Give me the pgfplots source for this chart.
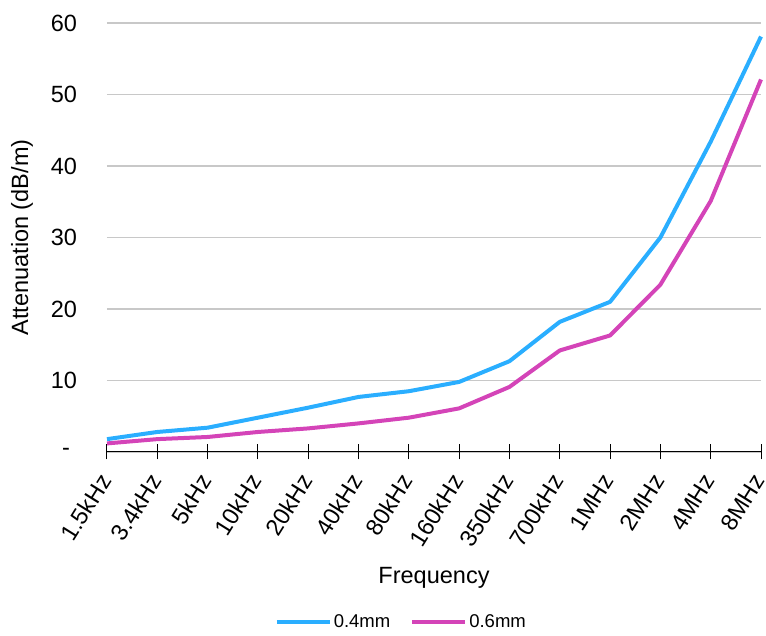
\documentclass[border=0pt]{standalone}
\usepackage{pgfplots}
\pgfplotsset{compat=1.18}
\usepackage{fontspec}
\setmainfont{Liberation Sans}
\definecolor{cblue}{HTML}{2AAEFF}
\definecolor{cmag}{HTML}{D444B8}
\definecolor{cgrid}{HTML}{C8C8C8}
\begin{document}
\begin{tikzpicture}
\begin{axis}[
  name=ax,
  scale only axis,
  width=654pt, height=429pt,
  xmin=0, xmax=13, ymin=0, ymax=60,
  axis lines*=left,
  y axis line style={draw=none},
  x axis line style={black, line width=1pt},
  xtick={0,...,13},
  xticklabels={1.5kHz,3.4kHz,5kHz,10kHz,20kHz,40kHz,80kHz,160kHz,350kHz,700kHz,1MHz,2MHz,4MHz,8MHz},
  ytick={0,10,...,60},
  yticklabels={-\hspace*{7pt},10,20,30,40,50,60},
  /pgf/number format/assume math mode=true,
  ymajorgrids,
  grid style={cgrid, line width=1.2pt},
  tick align=center,
  major tick length=15pt,
  xtick style={black, line width=1pt},
  ytick style={draw=none},
  tick label style={font=\fontsize{23.5}{27}\selectfont},
  yticklabel style={xshift=-19pt},
  xticklabel style={rotate=58, anchor=east},
  xticklabel shift=14pt,
  xlabel={Frequency},
  ylabel={Attenuation (dB/m)},
  label style={font=\fontsize{23.5}{27}\selectfont},
  xlabel style={at={(axis description cs:0.5,0)}, anchor=center, yshift=-126pt},
  ylabel style={at={(axis description cs:0,0.5)}, anchor=center, yshift=85pt},
  legend columns=2,
  legend style={at={(axis description cs:0.45,-0.396)}, anchor=center, draw=none,
    font=\fontsize{18.5}{21}\selectfont, /tikz/every even column/.append style={column sep=18pt}},
  legend image code/.code={\draw[#1, line width=4pt] (0pt,0pt) -- (53pt,0pt);},
  every axis plot/.append style={line width=4pt, line join=round},
  clip=false,
]
\addplot[cblue] coordinates {
(0,1.8) (1,2.8) (2,3.4) (3,4.8) (4,6.2) (5,7.7) (6,8.5) (7,9.8) (8,12.7) (9,18.2) (10,21.0) (11,30.0) (12,43.4) (13,58.1)
};
\addlegendentry{0.4mm}
\addplot[cmag] coordinates {
(0,1.2) (1,1.8) (2,2.1) (3,2.8) (4,3.3) (5,4.0) (6,4.8) (7,6.1) (8,9.1) (9,14.2) (10,16.3) (11,23.4) (12,35.1) (13,52.1)
};
\addlegendentry{0.6mm}
\end{axis}
\pgfresetboundingbox
\path ([shift={(-107pt,-184pt)}]ax.south west) rectangle ([shift={(5pt,23pt)}]ax.north east);
\end{tikzpicture}
\end{document}
